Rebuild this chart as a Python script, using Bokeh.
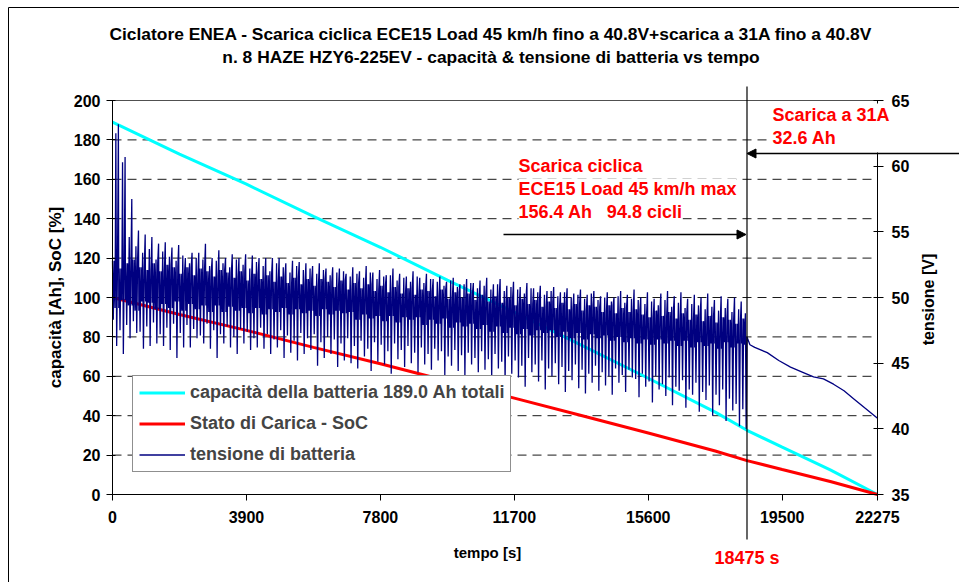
import math
from bokeh.plotting import figure
from bokeh.models import (Range1d, LinearAxis, FixedTicker, Label, Arrow, NormalHead,
                          BoxAnnotation, Legend, LegendItem, Grid)
from bokeh.embed import file_html
from bokeh.resources import INLINE

# ---------------- data ----------------
tempo_ticks = [0, 3900, 7800, 11700, 15600, 19500, 22275]
cap_ticks = [0, 20, 40, 60, 80, 100, 120, 140, 160, 180, 200]
griglia = [20, 40, 60, 80, 100, 120, 140, 160, 180]
tens_ticks = [35, 40, 45, 50, 55, 60, 65]

t_fine_ciclica = 18475      # s, end of the ECE15 cyclic discharge
t_fine = 22275              # s, end of test
durata_ciclo = 195          # s, one ECE15 cycle

# battery capacity [Ah] and state of charge [%]
tempo_cap = [0, 1950, 3900, 5850, 7800, 9750, 11700, 13650, 15600, 17550, 18475, 19500, 20900, 22275]
capacita = [189.0, 172.8, 157.5, 141.2, 125.5, 108.8, 92.5, 75.8, 59.0, 41.8, 32.6, 24.0, 12.5, 0.0]
soc = [100.0, 91.4, 83.3, 74.7, 66.4, 57.6, 48.9, 40.1, 31.2, 22.1, 17.2, 12.7, 6.6, 0.0]

# battery voltage [V] during the cyclic discharge, per ECE15 cycle:
# main peak, secondary peak, main dip, secondary dip, upper / lower edge of the dense band
picchi = [63.2, 60.7, 57.5, 55.1, 54.8, 54.6, 54.1, 54.2, 53.8, 54.0,
          53.0, 53.4, 53.4, 54.1, 53.0, 53.6, 53.0, 53.3, 53.0, 53.3,
          53.2, 53.0, 53.0, 53.0, 53.0, 52.6, 52.8, 52.7, 52.6, 52.4,
          52.6, 52.2, 52.3, 52.2, 51.8, 52.3, 52.0, 52.4, 51.9, 52.1,
          51.7, 52.2, 51.8, 51.6, 52.0, 51.5, 51.8, 51.4, 51.6, 51.2,
          51.5, 51.0, 51.4, 51.1, 51.3, 51.5, 51.0, 51.4, 50.9, 51.2,
          50.8, 51.1, 50.7, 50.9, 50.5, 50.8, 50.4, 50.7, 50.3, 50.6,
          50.2, 50.5, 50.1, 50.4, 50.0, 50.5, 50.2, 50.6, 50.0, 50.4,
          49.9, 50.3, 50.5, 50.1, 50.4, 49.9, 50.2, 50.0, 50.3, 49.8,
          50.1, 49.9, 50.0, 49.7, 49.6]
picchi_2 = [62.5, 60.3, 54.6, 53.9, 53.4, 53.7, 52.9, 53.5, 53.1, 52.8,
            53.2, 52.6, 53.0, 52.9, 52.4, 52.8, 52.6, 52.3, 52.9, 52.5,
            52.2, 52.7, 52.4, 52.0, 52.6, 52.3, 51.9, 52.4, 52.1, 52.2,
            51.8, 52.1, 51.7, 51.9, 52.0, 51.6, 51.8, 51.5, 51.9, 51.4,
            51.6, 51.7, 51.3, 51.5, 51.2, 51.6, 51.1, 51.4, 51.2, 50.9,
            51.3, 50.8, 51.0, 51.1, 50.7, 50.9, 50.6, 51.0, 50.5, 50.8,
            50.6, 50.3, 50.7, 50.4, 50.2, 50.5, 50.1, 50.4, 50.0, 50.2,
            49.9, 50.3, 49.8, 50.0, 49.7, 50.1, 49.6, 49.9, 49.8, 49.5,
            49.7, 49.4, 49.8, 49.3, 49.6, 49.2, 49.5, 49.4, 49.1, 49.3,
            49.0, 49.2, 48.9, 49.1, 48.8]
minimi = [46.3, 45.7, 46.9, 47.3, 46.1, 46.3, 46.5, 46.3, 46.0, 45.4,
          46.2, 46.2, 46.9, 46.5, 46.1, 45.4, 46.5, 46.2, 45.7, 46.5,
          46.0, 46.2, 46.1, 45.7, 46.2, 45.4, 45.8, 45.2, 45.7, 46.0,
          44.8, 45.4, 45.7, 44.7, 45.2, 45.0, 44.6, 45.5, 44.4, 45.1,
          44.9, 44.2, 45.3, 44.7, 45.0, 44.3, 44.9, 44.5, 45.2, 44.1,
          44.8, 44.4, 44.0, 44.9, 44.3, 44.5, 43.8, 44.6, 43.5, 44.2,
          43.9, 43.2, 44.3, 43.6, 43.0, 44.0, 43.4, 42.8, 43.7, 43.1,
          42.7, 43.5, 42.9, 43.3, 42.6, 43.5, 42.8, 43.9, 42.4, 43.2,
          42.0, 43.0, 42.5, 41.8, 42.9, 41.6, 42.6, 41.3, 42.2, 41.0,
          41.8, 40.6, 41.4, 40.2, 40.0]
minimi_2 = [48.3, 47.5, 47.9, 48.2, 47.4, 47.8, 48.1, 47.2, 47.7, 48.0,
            47.3, 47.9, 47.6, 47.1, 48.0, 47.5, 47.2, 47.8, 47.0, 47.6,
            47.4, 46.9, 47.7, 47.2, 46.8, 47.5, 47.1, 46.7, 47.3, 46.9,
            47.2, 46.6, 47.0, 46.8, 46.5, 46.9, 46.3, 46.7, 46.1, 46.6,
            46.4, 45.9, 46.5, 46.0, 46.3, 45.8, 46.2, 45.7, 46.1, 45.9,
            45.5, 46.0, 45.6, 45.8, 45.4, 45.9, 45.3, 45.7, 45.1, 45.5,
            45.2, 44.8, 45.4, 44.9, 45.2, 44.6, 45.0, 44.7, 44.4, 44.9,
            44.5, 44.2, 44.8, 44.3, 44.0, 44.6, 44.1, 44.5, 43.8, 44.2,
            43.6, 44.0, 43.4, 43.9, 43.2, 43.7, 43.0, 43.5, 42.8, 43.3,
            42.6, 43.0, 42.3, 41.9, 41.5]
banda_alta = [52.8, 52.2, 52.6, 52.9, 52.3, 52.1, 52.6, 52.0, 52.5, 52.3,
              51.8, 52.3, 51.7, 52.2, 52.0, 51.6, 52.1, 51.9, 51.5, 52.0,
              51.3, 51.8, 51.4, 51.7, 51.2, 51.6, 51.1, 51.5, 51.0, 51.4,
              50.9, 51.4, 51.2, 50.8, 51.3, 50.6, 51.1, 50.7, 51.0, 50.5,
              50.9, 50.4, 50.8, 50.3, 50.7, 50.2, 50.6, 50.5, 50.1, 50.6,
              49.9, 50.4, 50.0, 50.3, 49.8, 50.2, 49.7, 50.1, 49.6, 50.0,
              49.4, 49.9, 49.5, 49.8, 49.3, 49.7, 49.2, 49.6, 49.1, 49.5,
              49.0, 49.4, 49.3, 48.9, 49.4, 48.8, 49.2, 48.9, 49.1, 48.7,
              48.5, 49.0, 48.6, 48.9, 48.4, 48.8, 48.3, 48.7, 48.2, 48.6,
              48.1, 48.5, 48.3, 48.0, 48.4]
banda_bassa = [49.2, 49.8, 49.4, 49.0, 49.7, 49.6, 49.1, 49.5, 49.2, 49.7,
               49.0, 49.5, 49.1, 49.4, 48.9, 49.4, 48.9, 49.3, 49.0, 49.2,
               48.8, 49.2, 48.7, 49.1, 48.9, 49.2, 48.7, 49.1, 48.8, 49.0,
               48.6, 49.1, 48.7, 49.0, 48.8, 48.9, 48.3, 48.7, 48.4, 48.6,
               48.2, 48.6, 48.1, 48.5, 48.3, 48.5, 47.9, 48.3, 48.0, 48.4,
               47.7, 48.1, 47.8, 48.0, 47.6, 47.9, 47.4, 47.8, 47.3, 47.7,
               47.2, 47.6, 47.1, 47.5, 47.3, 47.5, 47.0, 47.4, 46.9, 47.3,
               46.8, 47.2, 46.9, 47.1, 46.7, 47.0, 46.6, 46.9, 46.5, 46.8,
               46.4, 46.8, 46.5, 46.7, 46.3, 46.7, 46.2, 46.6, 46.3, 46.5,
               46.1, 46.6, 46.2, 46.5, 46.4]

# battery voltage during the final 31 A constant-current discharge
tempo_scarica = [18475, 18560, 18700, 19065, 19400, 19743, 20100, 20413, 20700,
                 20995, 21300, 21578, 21900, 22275]
tensione_scarica = [47.0, 46.4, 46.2, 45.8, 45.2, 44.7, 44.3, 43.95, 43.8,
                    43.4, 42.9, 42.3, 41.6, 40.8]

# ---------------- build the voltage trace from the readings ----------------
schema = [(0.00, "hi"), (0.12, "dip2"), (0.25, "hi"), (0.38, "lo"), (0.50, "peak2"),
          (0.62, "min"), (0.75, "hi"), (0.88, "max"), (0.94, "lo")]
t_v, v = [], []
for i in range(len(picchi)):
    for frac, role in schema:
        t = i * durata_ciclo + frac * durata_ciclo
        if t >= t_fine_ciclica:
            break
        val = {"hi": banda_alta[i], "lo": banda_bassa[i], "dip2": minimi_2[i],
               "peak2": picchi_2[i], "min": minimi[i], "max": picchi[i]}[role]
        t_v.append(t)
        v.append(val)
t_v += tempo_scarica
v += tensione_scarica

# ---------------- page geometry (pixels) ----------------
W, H = 959, 582
PX_L, PX_R = 112.0, 877.0      # x pixel of t = 0 and t = 22275
PY_T, PY_B = 100.0, 494.0      # y pixel of 200 and 0 on the left axis
kx = (PX_R - PX_L) / t_fine
ky = (PY_B - PY_T) / 200.0

def tx(px):
    return (px - PX_L) / kx

def vy(py):
    return (PY_B - py) / ky

V0, V1 = 35.0, 65.0
vs = (V1 - V0) / 200.0

FONT = "Liberation Sans"
p = figure(width=W, height=H, title=None,
           x_range=Range1d(tx(0), tx(W)), y_range=Range1d(vy(H), vy(0)),
           x_axis_location=None, y_axis_location=None,
           output_backend="svg", toolbar_location=None,
           min_border=0, min_border_left=0, min_border_right=0,
           min_border_top=0, min_border_bottom=0)
p.extra_y_ranges = {"v": Range1d(V0 + vy(H) * vs, V0 + vy(0) * vs)}
p.center = [r for r in p.center if not isinstance(r, Grid)]
p.background_fill_color = "white"
p.border_fill_color = "white"
p.outline_line_color = None

# page frame (top and left edges of the chart area)
p.segment(x0=[tx(8), tx(8)], y0=[vy(7), vy(7)], x1=[tx(W + 2), tx(8)], y1=[vy(7), vy(H + 2)],
          line_color="black", line_width=1)

# dashed horizontal grid + solid top line
p.segment(x0=[0] * len(griglia), x1=[t_fine] * len(griglia), y0=griglia, y1=griglia,
          line_color="#1a1a1a", line_width=1, line_dash="9 6")
p.segment(x0=[0], x1=[t_fine], y0=[200], y1=[200], line_color="#505050", line_width=1)

def style_axis(ax, tin, tout, standoff):
    ax.major_label_text_font = FONT
    ax.major_label_text_font_style = "bold"
    ax.major_label_text_font_size = "16px"
    ax.major_label_text_color = "black"
    ax.major_label_standoff = standoff
    ax.major_tick_in = tin
    ax.major_tick_out = tout
    ax.major_tick_line_color = "black"
    ax.minor_tick_line_color = None
    ax.axis_line_color = "black"
    ax.axis_line_width = 1

xa = LinearAxis(fixed_location=0, bounds=(0, t_fine), ticker=FixedTicker(ticks=tempo_ticks))
style_axis(xa, 0, 6, 10)
p.add_layout(xa, "below")

ya = LinearAxis(fixed_location=0, bounds=(0, 200), ticker=FixedTicker(ticks=cap_ticks))
style_axis(ya, 3, 6, 6)
p.add_layout(ya, "left")

ra = LinearAxis(y_range_name="v", fixed_location=t_fine, bounds=(V0, V1),
                ticker=FixedTicker(ticks=tens_ticks))
style_axis(ra, 4, 6, 8)
p.add_layout(ra, "right")

# series
r_cap = p.line(tempo_cap, capacita, line_color="#00FFFF", line_width=3)
r_soc = p.line(tempo_cap, soc, line_color="#FF0000", line_width=3)
r_v = p.line(t_v, v, y_range_name="v", line_color="#000080", line_width=1.3)

# white box behind "Scarica a 31A" text
p.add_layout(BoxAnnotation(left=tx(767), right=tx(880), top=vy(103), bottom=vy(152),
                           fill_color="white", fill_alpha=1, line_color=None))

# vertical marker line at end of cyclic discharge
p.add_layout(Arrow(end=None, x_start=t_fine_ciclica, y_start=vy(86), x_end=t_fine_ciclica,
                   y_end=vy(539), line_color="black", line_width=1.2))
# arrows
p.add_layout(Arrow(end=NormalHead(size=9, fill_color="black", line_color="black"),
                   x_start=tx(503), y_start=vy(234), x_end=tx(745.5), y_end=vy(234),
                   line_color="black", line_width=1.5))
p.add_layout(Arrow(end=NormalHead(size=9, fill_color="black", line_color="black"),
                   x_start=tx(W + 5), y_start=vy(153), x_end=t_fine_ciclica, y_end=vy(153),
                   line_color="black", line_width=1.5))

def lab(px, py, text, color="black", size="16px", align="left", angle=0, bg=None):
    l = Label(x=tx(px), y=vy(py), text=text, text_color=color, text_font=FONT,
              text_font_style="bold", text_font_size=size, text_align=align,
              text_baseline="middle", angle=angle)
    if bg:
        l.background_fill_color = bg
        l.background_fill_alpha = 1
    p.add_layout(l)
    return l

# titles
lab(490.5, 33.5, "Ciclatore ENEA - Scarica ciclica ECE15 Load 45 km/h fino a 40.8V+scarica a 31A fino a 40.8V",
    size="17.4px", align="center")
lab(490.5, 56.5, "n. 8 HAZE HZY6-225EV - capacità & tensione di batteria vs tempo",
    size="17.4px", align="center")

# axis titles
lab(55, 297, "capacità [Ah], SoC [%]", size="17px", align="center", angle=math.pi / 2)
lab(928, 299, "tensione [V]", size="16px", align="center", angle=math.pi / 2)
lab(487, 552, "tempo [s]", size="15px", align="center")

# red annotations
lab(772, 114, "Scarica a 31A", color="#FF0000", size="18px", bg="white")
lab(772, 137, "32.6 Ah", color="#FF0000", size="18px", bg="white")
lab(518, 165.5, "Scarica ciclica", color="#FF0000", size="18px", bg="white")
lab(518, 188.5, "ECE15 Load 45 km/h max", color="#FF0000", size="18px", bg="white")
lab(518, 211, "156.4 Ah\u00a0\u00a0\u00a094.8 cicli", color="#FF0000", size="18px", bg="white")
lab(746.5, 557, "18475 s", color="#FF0000", size="18px", align="center")

# legend
legend = Legend(items=[LegendItem(label="capacità della batteria 189.0 Ah totali", renderers=[r_cap]),
                       LegendItem(label="Stato di Carica - SoC", renderers=[r_soc]),
                       LegendItem(label="tensione di batteria", renderers=[r_v])],
                location=(132, H - 472), padding=6, spacing=10, margin=0,
                glyph_width=46, glyph_height=21, label_height=21, label_standoff=5,
                label_text_font=FONT, label_text_font_style="bold", label_text_font_size="18px",
                border_line_color="#202020", border_line_width=1.3,
                background_fill_color="white", background_fill_alpha=1)
p.add_layout(legend)

open("out.html", "w").write(file_html(p, INLINE))
